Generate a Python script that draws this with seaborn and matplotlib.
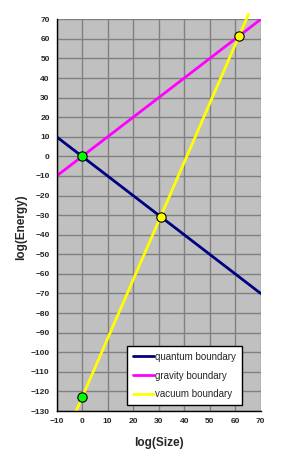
import matplotlib
matplotlib.use("Agg")
import matplotlib.pyplot as plt
import seaborn as sns
import pandas as pd

# data
quantum_x = [-10, 70]
quantum_y = [10, -70]
gravity_x = [-10, 70]
gravity_y = [-10, 70]
vacuum_x = [-2.33, 65.2]
vacuum_y = [-130, 72.6]
green_x = [0, 0]
green_y = [0, -123]
yellow_x = [30.75, 61.5]
yellow_y = [-30.75, 61.5]
xticks = list(range(-10, 71, 10))
yticks = list(range(-130, 71, 10))

sns.set_style("white")
plt.rcParams['font.family'] = ['Liberation Sans', 'DejaVu Sans']

fig = plt.figure(figsize=(2.98, 4.63), dpi=100)
ax = fig.add_axes([0.190, 0.1123, 0.685, 0.846])
ax.set_facecolor("#C0C0C0")

dq = pd.DataFrame({"x": quantum_x, "y": quantum_y})
dg = pd.DataFrame({"x": gravity_x, "y": gravity_y})
dv = pd.DataFrame({"x": vacuum_x, "y": vacuum_y})

sns.lineplot(data=dq, x="x", y="y", ax=ax, color="#000080", lw=2, label="quantum boundary", sort=False)
sns.lineplot(data=dg, x="x", y="y", ax=ax, color="#FF00FF", lw=2, label="gravity boundary", sort=False)
sns.lineplot(data=dv, x="x", y="y", ax=ax, color="#FFFF00", lw=2, label="vacuum boundary", sort=False)
ax.lines[-1].set_clip_on(False)

sns.scatterplot(x=green_x, y=green_y, ax=ax, color="#00FF00", edgecolor="black", s=45, linewidth=0.8, zorder=5, clip_on=False)
sns.scatterplot(x=yellow_x, y=yellow_y, ax=ax, color="#FFFF00", edgecolor="black", s=45, linewidth=0.8, zorder=5, clip_on=False)

ax.set_xlim(-10, 70)
ax.set_ylim(-130, 70)
ax.set_xticks(xticks)
ax.set_yticks(yticks)
ax.grid(True, color="#808080", lw=1)
ax.set_axisbelow(True)
for s in ["top", "right"]:
    ax.spines[s].set_visible(False)
for s in ["left", "bottom"]:
    ax.spines[s].set_color("black")
    ax.spines[s].set_linewidth(1)
ax.tick_params(axis="both", direction="out", length=3, width=1, color="black", labelsize=6, pad=2)
for lab in ax.get_xticklabels() + ax.get_yticklabels():
    lab.set_fontweight("bold")

ax.set_xlabel("log(Size)", fontsize=8.5, fontweight="bold", va="center")
ax.set_ylabel("log(Energy)", fontsize=8.5, fontweight="bold", va="center")
ax.xaxis.set_label_coords(0.5, -0.082)
ax.yaxis.set_label_coords(-0.175, 0.47)

leg = ax.legend(loc="lower right", bbox_to_anchor=(0.917, 0.01), frameon=True, fancybox=False,
                fontsize=7, handlelength=2.2, handletextpad=0.1, borderpad=0.6, labelspacing=0.9,
                borderaxespad=0.2)
leg.get_frame().set_edgecolor("black")
leg.get_frame().set_facecolor("white")
leg.get_frame().set_alpha(1)
leg.get_frame().set_linewidth(1)

fig.savefig("out.png", dpi=100)
